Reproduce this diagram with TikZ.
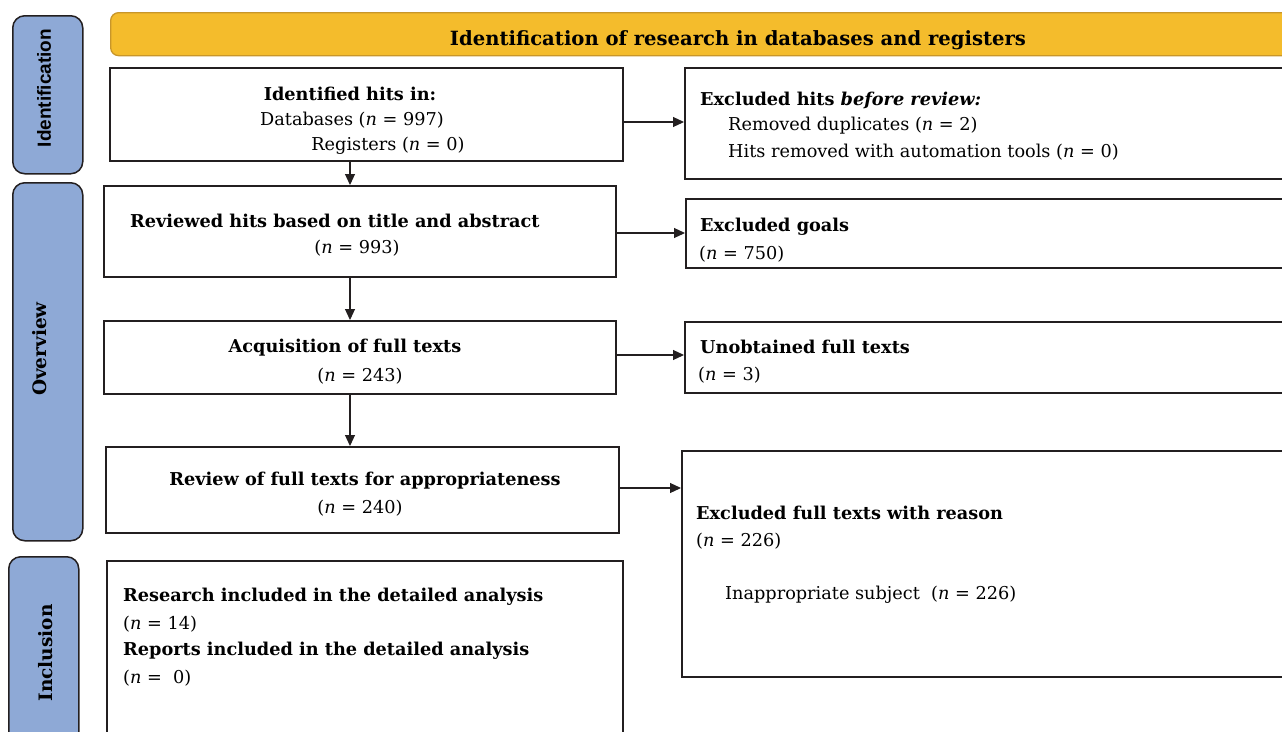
\documentclass[tikz,border=0pt]{standalone}
\usepackage{fontspec}
\setmainfont{DejaVu Serif}
\newfontfamily\tabsans{Liberation Sans}
\usetikzlibrary{arrows.meta}
\definecolor{tabblue}{HTML}{8EA9D6}
\definecolor{gold}{HTML}{F4BC2C}
\definecolor{golddark}{HTML}{C8962A}
\definecolor{ink}{HTML}{231F20}
\begin{document}
\begin{tikzpicture}[x=1pt,y=-1pt,
  box/.style={draw=ink, line width=1.8pt, fill=white, rectangle, inner sep=0pt, anchor=north west},
  tabbox/.style={draw=ink, line width=1.5pt, fill=tabblue, rounded corners=12pt, rectangle, inner sep=0pt, anchor=north west},
  arr/.style={draw=ink, line width=1.1pt, -{Triangle[length=11pt,width=10pt]}},
  bt/.style={font=\fontsize{17.7}{21}\selectfont\bfseries, inner sep=0pt},
  rt/.style={font=\fontsize{17.7}{21}\selectfont, inner sep=0pt},
  tablabel/.style={rotate=90, inner sep=0pt, font=\fontsize{18.5}{22}\selectfont\bfseries},
]
\useasboundingbox (0,0) rectangle (1282,731);
\clip (0,0) rectangle (1282,731);

% header band
\node[anchor=north west, draw=golddark, fill=gold, line width=1.3pt, rounded corners=8pt,
      minimum width=1220pt, minimum height=43pt, inner sep=0pt] (hdr) at (110,12) {};
\node[bt, font=\fontsize{19.6}{24}\selectfont\bfseries] (hdrt) at (738,40) {Identification of research in databases and registers};

% side tabs
\node[tabbox, minimum width=70pt, minimum height=158pt] (tabI) at (12,15) {};
\node[tabbox, minimum width=70pt, minimum height=358pt] (tabO) at (12,182) {};
\node[tabbox, minimum width=70pt, minimum height=220pt] (tabN) at (8,556) {};
\node[tablabel, font=\tabsans\bfseries\fontsize{19}{21}\selectfont] (lI) at (44,88) {Identification};
\node[tablabel] (lO) at (40,349) {Overview};
\node[tablabel] (lN) at (46,653) {Inclusion};

% left boxes
\node[box, minimum width=513pt, minimum height=93pt] (A) at (109,67) {};
\node[box, minimum width=512pt, minimum height=91pt] (B) at (103,185) {};
\node[box, minimum width=512pt, minimum height=73pt] (C) at (103,320) {};
\node[box, minimum width=513pt, minimum height=86pt] (D) at (105,446) {};
\node[box, minimum width=516pt, minimum height=220pt] (E) at (106,560) {};

% right boxes
\node[box, minimum width=640pt, minimum height=111pt] (R1) at (684,67) {};
\node[box, minimum width=640pt, minimum height=69pt] (R2) at (685,198) {};
\node[box, minimum width=640pt, minimum height=71pt] (R3) at (684,321) {};
\node[box, minimum width=640pt, minimum height=226pt] (R4) at (681,450) {};

% texts: A
\node[bt] (tA1) at (350,94) {Identified hits in:};
\node[rt] (tA2) at (352,120) {Databases (\textit{n} = 997)};
\node[rt] (tA3) at (388,146) {Registers (\textit{n} = 0)};
% B
\node[bt, anchor=west] (tB1) at (130,221) {Reviewed hits based on title and abstract};
\node[rt] (tB2) at (357,248) {(\textit{n} = 993)};
% C
\node[bt] (tC1) at (345,348) {Acquisition of full texts};
\node[rt] (tC2) at (360,376) {(\textit{n} = 243)};
% D
\node[bt] (tD1) at (365,481) {Review of full texts for appropriateness};
\node[rt] (tD2) at (360,508) {(\textit{n} = 240)};
% E
\node[bt, anchor=west] (tE1) at (123,597) {Research included in the detailed analysis};
\node[rt, anchor=west] (tE2) at (123,624) {(\textit{n} = 14)};
\node[bt, anchor=west] (tE3) at (123,651) {Reports included in the detailed analysis};
\node[rt, anchor=west] (tE4) at (123,678) {(\textit{n} =~~0)};
% R1
\node[bt, anchor=west] (tR11) at (700,100) {Excluded hits \textit{before review:}};
\node[rt, anchor=west] (tR12) at (728,126) {Removed duplicates (\textit{n} = 2)};
\node[rt, anchor=west] (tR13) at (728,152) {Hits removed with automation tools (\textit{n} = 0)};
% R2
\node[bt, anchor=west] (tR21) at (700,227) {Excluded goals};
\node[rt, anchor=west] (tR22) at (699,254) {(\textit{n} = 750)};
% R3
\node[bt, anchor=west] (tR31) at (700,347) {Unobtained full texts};
\node[rt, anchor=west] (tR32) at (698,375) {(\textit{n} = 3)};
% R4
\node[bt, anchor=west] (tR41) at (696,513) {Excluded full texts with reason};
\node[rt, anchor=west] (tR42) at (696,541) {(\textit{n} = 226)};
\node[rt, anchor=west] (tR43) at (725,595) {Inappropriate subject~~(\textit{n} = 226)};

% vertical arrows
\draw[arr] (350,0 |- A.south) -- (350,0 |- B.north);
\draw[arr] (350,0 |- B.south) -- (350,0 |- C.north);
\draw[arr] (350,0 |- C.south) -- (350,0 |- D.north);

% horizontal arrows
\draw[arr] (A.east |- 0,122) -- (R1.west |- 0,122);
\draw[arr] (B.east |- 0,233) -- (R2.west |- 0,233);
\draw[arr] (C.east |- 0,355) -- (R3.west |- 0,355);
\draw[arr] (D.east |- 0,488) -- (R4.west |- 0,488);
\end{tikzpicture}
\end{document}
